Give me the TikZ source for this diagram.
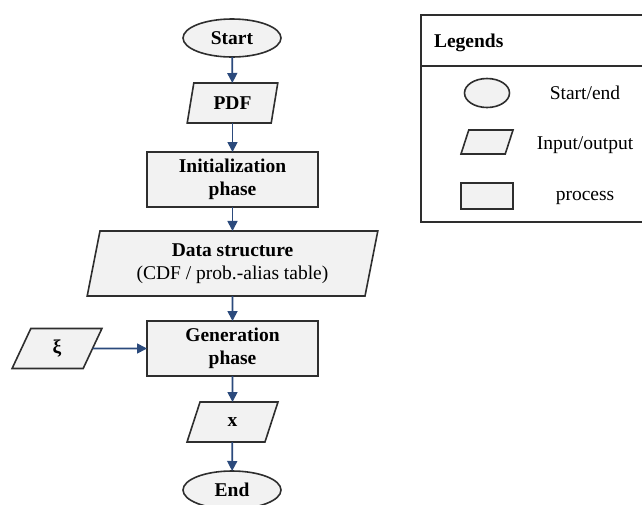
\documentclass[tikz,border=0pt]{standalone}
\usepackage{fontspec}
\setmainfont{Liberation Serif}
\usetikzlibrary{shapes.geometric,arrows.meta}
\definecolor{boxfill}{HTML}{F2F2F2}
\definecolor{boxline}{HTML}{2E2E2E}
\definecolor{arrowcol}{HTML}{2B4A7C}
\begin{document}
\begin{tikzpicture}[x=1pt,y=-1pt,
  every node/.style={font=\fontsize{19.5}{23.5}\selectfont, align=center, inner sep=0pt, outer sep=0pt},
  base/.style={draw=boxline, fill=boxfill, line width=1.6pt},
  terminal/.style={base, ellipse, minimum width=98pt, minimum height=38pt},
  io/.style={base, trapezium, trapezium left angle=78, trapezium right angle=102, trapezium stretches=true, inner sep=2pt},
  proc/.style={base, rectangle, minimum width=171pt, minimum height=55pt},
  conn/.style={draw=arrowcol, line width=1.7pt, -{Triangle[width=10pt,length=10pt]}},
  lbl/.style={font=\fontsize{19.5}{23.5}\selectfont}
]
\useasboundingbox (0,0) rectangle (642,504);
\clip (0,0) rectangle (642,504);

% flowchart
\node[terminal] (start) at (232,38) {\textbf{Start}};
\node[io, minimum width=91pt, minimum height=40pt] (pdf) at (232.5,103) {\textbf{PDF}};
\node[proc] (init) at (232.5,179.5) {\textbf{Initialization}\\\textbf{phase}};
\node[io, minimum width=291pt, minimum height=65pt] (data) at (232.5,263.5) {\textbf{Data structure}\\(CDF / prob.-alias table)};
\node[proc] (gen) at (232.5,348.5) {\textbf{Generation}\\\textbf{phase}};
\node[io, minimum width=90pt, minimum height=40pt] (xi) at (57,348.5) {\textbf{ξ}};
\node[io, minimum width=91pt, minimum height=40pt] (x) at (232.5,422) {\textbf{x}};
\node[terminal] (end) at (232,490) {\textbf{End}};

\draw[conn] (start) -- (pdf);
\draw[conn] (pdf) -- (init);
\draw[conn] (init) -- (data);
\draw[conn] (data) -- (gen);
\draw[conn] (xi.east) -- (gen.west);
\draw[conn] (gen) -- (x);
\draw[conn] (x) -- (end);

% legend
\draw[draw=boxline, line width=1.6pt] (421,15) rectangle (660,222);
\draw[draw=boxline, line width=1.6pt] (421,66) -- (660,66);
\node[anchor=west] (legtitle) at (434,43) {\textbf{Legends}};
\node[base, ellipse, minimum width=45pt, minimum height=29pt] (legell) at (487,93) {};
\node[io, minimum width=52pt, minimum height=24pt] (legio) at (487,142) {};
\node[base, rectangle, minimum width=52pt, minimum height=26pt] (legproc) at (487,196) {};
\node[lbl] (legt1) at (585,93) {Start/end};
\node[lbl] (legt2) at (585,145) {Input/output};
\node[lbl] (legt3) at (585,198) {process};
\end{tikzpicture}
\end{document}
